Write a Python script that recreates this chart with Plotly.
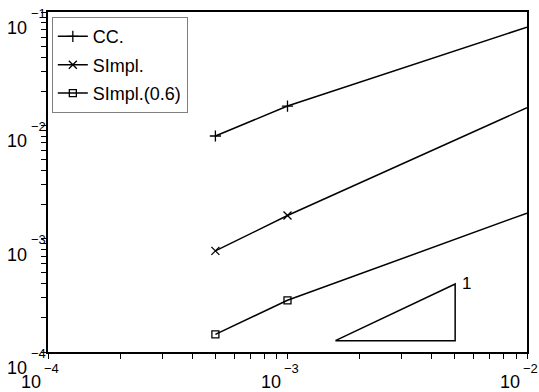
import numpy as np
import plotly.graph_objects as go

# data
h = [5e-4, 1e-3, 1e-2]
cc = [8.05e-3, 1.48e-2, 7.35e-2]
simpl = [7.8e-4, 1.6e-3, 1.43e-2]
simpl06 = [1.43e-4, 2.86e-4, 1.68e-3]
names = ["CC.", "SImpl.", "SImpl.(0.6)"]
symbols = ["cross-thin", "x-thin", "square-open"]
# slope triangle
tri_x = [10**-2.8, 10**-2.3, 10**-2.3, 10**-2.8]
tri_y = [10**-3.9, 10**-3.9, 10**-3.4, 10**-3.9]
tri_label = "1"
# tick exponents
x_exps = [-4, -3, -2]
y_exps = [-4, -3, -2, -1]

FONT = "Liberation Sans, Arial, Helvetica, sans-serif"
fig = go.Figure()
for i, (ys, nm, sym) in enumerate(zip([cc, simpl, simpl06], names, symbols)):
    fig.add_trace(go.Scatter(
        x=h, y=ys, name=nm, mode="lines+markers", legendgroup=str(i),
        line=dict(color="black", width=1.5),
        marker=dict(symbol=sym, size=8 if i < 2 else 7, color="black",
                    line=dict(color="black", width=1.3)),
        cliponaxis=False,
    ))
fig.add_trace(go.Scatter(x=tri_x, y=tri_y, mode="lines", showlegend=False,
                         line=dict(color="black", width=1.5), hoverinfo="skip"))

def minor_vals(lo, hi):
    v = []
    for d in range(lo, hi):
        for m in range(1, 10):
            v.append(m * 10.0**d)
    v.append(10.0**hi)
    return v

fig.update_xaxes(type="log", range=[-4, -2], showgrid=False, zeroline=False,
                 showline=True, linecolor="black", linewidth=2, mirror=True,
                 ticks="outside", ticklen=5, tickwidth=1.2, tickcolor="black",
                 tickvals=minor_vals(-4, -2), showticklabels=False)
fig.update_yaxes(type="log", range=[-4, -1], showgrid=False, zeroline=False,
                 showline=True, linecolor="black", linewidth=2, mirror=True,
                 ticks="outside", ticklen=5, tickwidth=1.2, tickcolor="black",
                 tickvals=minor_vals(-4, -1), showticklabels=False)

ann = []
# slope label (annotation positions on log axes are given in log10 units)
ann.append(dict(x=np.log10(tri_x[2]), xref="x", y=np.log10(tri_y[2]), yref="y",
                text=tri_label, showarrow=False, xanchor="left", yanchor="middle",
                xshift=5, yshift=1, font=dict(family=FONT, size=17, color="black")))
for e in x_exps:
    ann.append(dict(x=e, xref="x", y=0, yref="paper", text="10", showarrow=False,
                    xanchor="right", yanchor="middle", xshift=-5, yshift=-30,
                    font=dict(family=FONT, size=18, color="black")))
    ann.append(dict(x=e, xref="x", y=0, yref="paper", text="\u2212%d" % -e, showarrow=False,
                    xanchor="left", yanchor="middle", xshift=-6, yshift=-16,
                    font=dict(family=FONT, size=13, color="black")))
for e in y_exps:
    ann.append(dict(x=0, xref="paper", y=e, yref="y", text="10", showarrow=False,
                    xanchor="right", yanchor="middle", xshift=-19, yshift=-16,
                    font=dict(family=FONT, size=18, color="black")))
    ann.append(dict(x=0, xref="paper", y=e, yref="y", text="\u2212%d" % -e, showarrow=False,
                    xanchor="left", yanchor="middle", xshift=-19, yshift=-1,
                    font=dict(family=FONT, size=13, color="black")))

fig.update_layout(
    width=539, height=392, margin=dict(l=48, r=10, t=12, b=40),
    paper_bgcolor="white", plot_bgcolor="white",
    annotations=ann,
    legend=dict(x=0.008, y=0.985, xanchor="left", yanchor="top",
                bordercolor="#808080", borderwidth=1, bgcolor="white",
                font=dict(family=FONT, size=18, color="black"),
                traceorder="grouped", tracegroupgap=2, itemwidth=30),
)
fig.write_html("out.html")
